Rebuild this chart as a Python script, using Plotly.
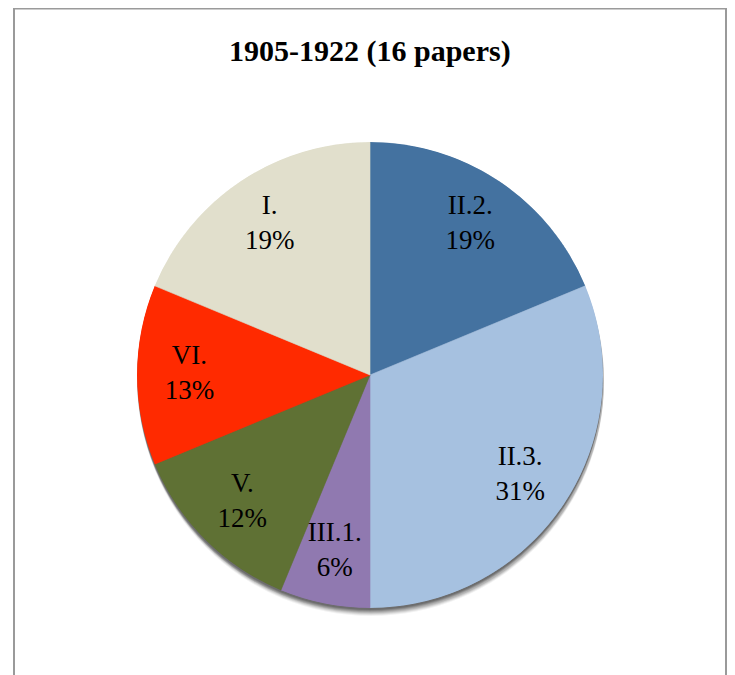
import plotly.graph_objects as go

title = "1905-1922 (16 papers)"
labels = ["II.2.", "II.3.", "III.1.", "V.", "VI.", "I."]
papers = [3, 5, 1, 2, 2, 3]
pct_text = ["19%", "31%", "6%", "12%", "13%", "19%"]
colors = ["#4472a0", "#a6c1e0", "#9079b0", "#5f7134", "#ff2a00", "#e1dfcc"]

# slice geometry derived from the values (degrees, clockwise from 12 o'clock)
total = sum(papers)
spans = [v / total * 360 for v in papers]
mids = []
acc = 0
for s in spans:
    mids.append(acc + s / 2)
    acc += s

W, H = 735, 675
cx, cy, R = 362, 367, 233   # figure pixel coords of the pie

fig = go.Figure()

shapes = []
# soft shadow under the pie
for dx, dy, op in [(1, 8, 0.05), (1, 7, 0.07), (1, 6, 0.09), (1, 5, 0.11), (0, 4, 0.13), (0, 3, 0.15), (0, 2, 0.17)]:
    shapes.append(dict(
        type="circle", xref="paper", yref="paper", layer="below",
        x0=(cx - R + dx) / W, x1=(cx + R + dx) / W,
        y0=1 - (cy + R + dy) / H, y1=1 - (cy - R + dy) / H,
        fillcolor="rgba(0,0,0,%.2f)" % op, line=dict(width=0)))
# chart frame
shapes.append(dict(type="rect", xref="paper", yref="paper", layer="above",
                   x0=6 / W, x1=718 / W, y0=-0.05, y1=1 - 0.5 / H,
                   line=dict(color="#9a9a9a", width=2), fillcolor="rgba(0,0,0,0)"))

fig.add_trace(go.Barpolar(
    r=[1] * len(papers), theta=mids, width=spans,
    marker=dict(color=colors, line=dict(color=colors, width=0.6)),
    hovertext=labels, hoverinfo="text", showlegend=False,
))
fig.add_trace(go.Scatterpolar(
    r=[0.775] * len(papers), theta=mids, mode="text",
    text=[f"{l}<br>{p}" for l, p in zip(labels, pct_text)],
    textposition="middle center",
    textfont=dict(family="Liberation Serif", size=27, color="#000000"),
    hoverinfo="skip", showlegend=False,
))

fig.update_layout(
    width=W, height=H,
    margin=dict(l=0, r=0, t=0, b=0),
    paper_bgcolor="white", plot_bgcolor="white",
    shapes=shapes,
    polar=dict(
        domain=dict(x=[(cx - R) / W, (cx + R) / W], y=[1 - (cy + R) / H, 1 - (cy - R) / H]),
        bgcolor="rgba(0,0,0,0)",
        bargap=0,
        radialaxis=dict(range=[0, 1], visible=False, showgrid=False),
        angularaxis=dict(direction="clockwise", rotation=90, visible=False, showgrid=False),
    ),
    annotations=[dict(text="<b>" + title + "</b>", x=cx / W, y=1 - 43 / H,
                      xref="paper", yref="paper", showarrow=False,
                      xanchor="center", yanchor="middle",
                      font=dict(family="Liberation Serif", size=30, color="#000000"))],
)

fig.write_html("out.html")
